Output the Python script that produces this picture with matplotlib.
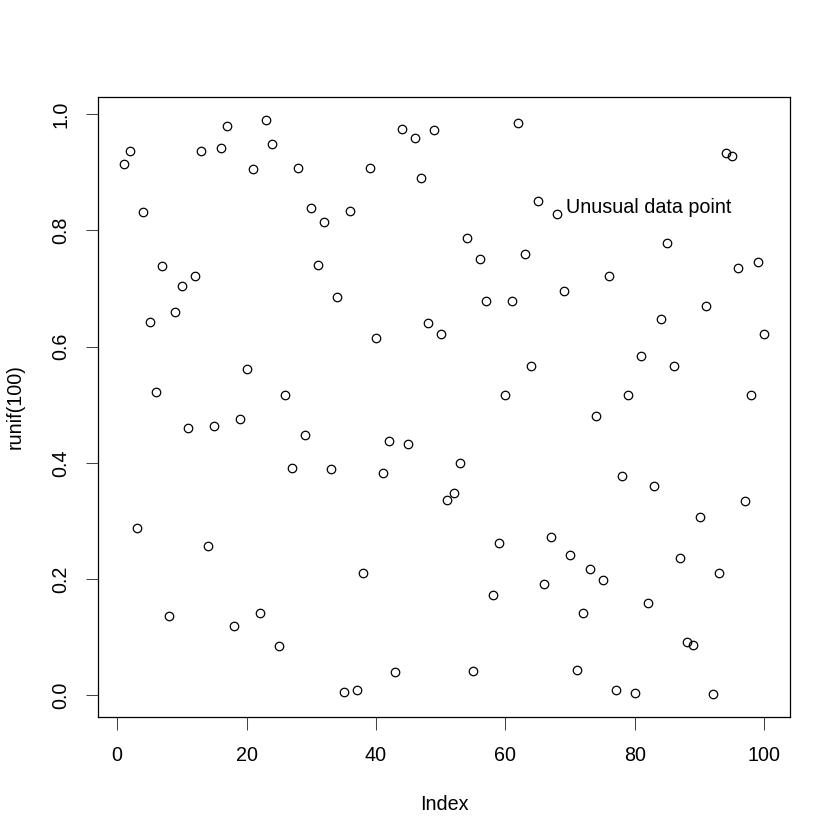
# Libraries
import numpy as np
import matplotlib
matplotlib.use("Agg")
import matplotlib.pyplot as plt

plt.rcParams["font.family"] = ["Liberation Sans", "DejaVu Sans"]

# Data (runif(100) against index)
index = np.arange(1, 101)
values = [
    0.915, 0.936, 0.288, 0.831, 0.643, 0.521, 0.738, 0.136, 0.659, 0.705,
    0.459, 0.721, 0.936, 0.257, 0.464, 0.941, 0.979, 0.119, 0.476, 0.562,
    0.905, 0.141, 0.990, 0.948, 0.084, 0.516, 0.391, 0.907, 0.448, 0.838,
    0.740, 0.814, 0.390, 0.686, 0.005, 0.834, 0.009, 0.210, 0.908, 0.614,
    0.383, 0.438, 0.040, 0.974, 0.433, 0.959, 0.890, 0.641, 0.972, 0.621,
    0.336, 0.348, 0.400, 0.786, 0.041, 0.750, 0.679, 0.172, 0.262, 0.516,
    0.678, 0.984, 0.760, 0.567, 0.850, 0.191, 0.272, 0.829, 0.695, 0.241,
    0.044, 0.141, 0.217, 0.481, 0.198, 0.721, 0.009, 0.378, 0.516, 0.003,
    0.583, 0.159, 0.360, 0.647, 0.778, 0.566, 0.236, 0.091, 0.086, 0.307,
    0.669, 0.002, 0.210, 0.934, 0.928, 0.736, 0.334, 0.516, 0.745, 0.621,
]
note_text = "Unusual data point"
note_x = 69.35
note_y = 0.840

x_ticks = [0, 20, 40, 60, 80, 100]
y_ticks = [0.0, 0.2, 0.4, 0.6, 0.8, 1.0]

FS = 14.2

# Plot
W, H = 840, 840
fig = plt.figure(figsize=(W / 100, H / 100), dpi=100)
ax = fig.add_axes([98 / W, 1 - 717 / H, 692 / W, 620 / H])

ax.plot(index, values, linestyle="none", marker="o", markersize=6.1,
        markerfacecolor="none", markeredgecolor="black", markeredgewidth=0.9)
ax.text(note_x, note_y, note_text, ha="left", va="center", fontsize=FS)

# R style 4% padding
ax.margins(0.04)

ax.set_xticks(x_ticks)
ax.set_xticklabels([str(t) for t in x_ticks])
ax.set_yticks(y_ticks)
ax.set_yticklabels([f"{t:.1f}" for t in y_ticks], rotation=90, va="center")

ax.tick_params(axis="both", direction="out", length=9, width=0.75,
               labelsize=FS, color="#444444")
ax.tick_params(axis="x", pad=12)
ax.tick_params(axis="y", pad=11)
for sp in ax.spines.values():
    sp.set_linewidth(0.9)

ax.set_xlabel("Index", fontsize=FS)
ax.set_ylabel("runif(100)", fontsize=FS)
ax.xaxis.set_label_coords(0.5, -0.126)
ax.yaxis.set_label_coords(-0.106, 0.5)

fig.savefig("out.png", dpi=100, facecolor="white")
